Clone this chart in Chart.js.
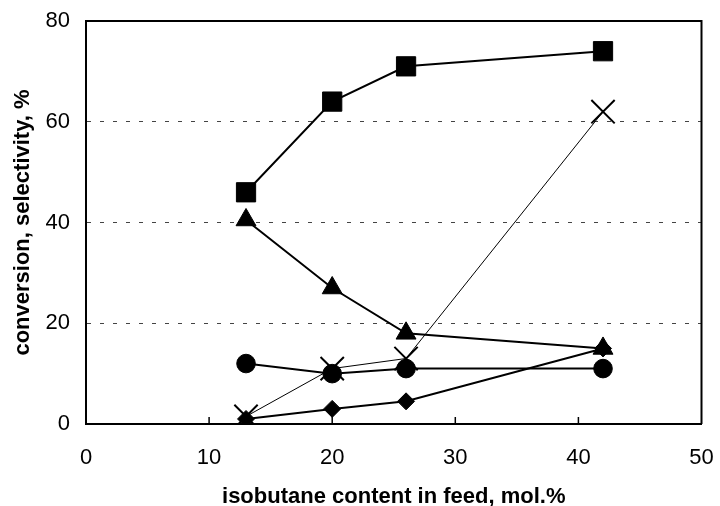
<!DOCTYPE html>
<html>
<head>
<meta charset="utf-8">
<script src="https://cdn.jsdelivr.net/npm/chart.js@4/dist/chart.umd.min.js"></script>
<style>
  html, body { margin: 0; padding: 0; background: #fff; }
  #wrap { width: 720px; height: 506px; }
</style>
</head>
<body>
<div id="wrap"><canvas id="feedChart"></canvas></div>
<script>
// isobutane content in feed, mol.%
var feedContent = [13, 20, 26, 42];

// one array per marker series
var squareValues = [46, 64, 71, 74];
var triangleValues = [40.5, 27, 18, 15];
var crossValues = [1.5, 11, 13, 62];
var circleValues = [12, 10, 11, 11];
var diamondValues = [1, 3, 4.5, 15];

var xTicks = [0, 10, 20, 30, 40, 50];
var yTicks = [0, 20, 40, 60, 80];

function pts(vals) {
  return feedContent.map(function (x, i) { return { x: x, y: vals[i] }; });
}

function series(vals, style, radius, lineW) {
  return {
    data: pts(vals),
    showLine: true,
    borderColor: '#000',
    backgroundColor: '#000',
    borderWidth: lineW,
    pointStyle: style,
    pointRadius: radius,
    pointBorderColor: '#000',
    pointBackgroundColor: '#000',
    pointBorderWidth: style === 'crossRot' ? 2 : 1
  };
}

// frame on top/right and inward x ticks
var framePlugin = {
  id: 'frame',
  afterDraw: function (chart) {
    var a = chart.chartArea, ctx = chart.ctx, xs = chart.scales.x;
    ctx.save();
    ctx.strokeStyle = '#000';
    ctx.lineWidth = 2;
    ctx.beginPath();
    ctx.moveTo(a.left, a.top);
    ctx.lineTo(a.right, a.top);
    ctx.lineTo(a.right, a.bottom);
    ctx.stroke();
    ctx.lineWidth = 1.5;
    xTicks.slice(1, -1).forEach(function (t) {
      var px = xs.getPixelForValue(t);
      ctx.beginPath();
      ctx.moveTo(px, a.bottom);
      ctx.lineTo(px, a.bottom - 7);
      ctx.stroke();
    });
    ctx.restore();
  }
};

var ctx = document.getElementById('feedChart');
var myChart = new Chart(ctx, {
  type: 'scatter',
  data: {
    datasets: [
      series(crossValues, 'crossRot', 16.5, 1),
      series(diamondValues, 'rectRot', 8.5, 2),
      series(circleValues, 'circle', 9.3, 2),
      series(triangleValues, 'triangle', 11.5, 2),
      series(squareValues, 'rect', 13.6, 2)
    ]
  },
  options: {
    responsive: true,
    maintainAspectRatio: false,
    animation: false,
    layout: { padding: { top: 21, right: 14, left: 0, bottom: 0 } },
    plugins: { legend: { display: false }, tooltip: { enabled: false } },
    scales: {
      x: {
        type: 'linear',
        min: 0,
        max: 50,
        afterBuildTicks: function (s) { s.ticks = xTicks.map(function (v) { return { value: v }; }); },
        afterFit: function (s) { s.height = 82; s.paddingLeft = 0; s.paddingRight = 0; },
        grid: { display: false, drawTicks: false },
        border: { display: true, color: '#000', width: 2 },
        ticks: {
          padding: 21,
          color: '#000',
          font: { family: 'Liberation Sans, Arial, sans-serif', size: 22 }
        },
        title: {
          display: true,
          text: 'isobutane content in feed, mol.%',
          color: '#000',
          padding: 0,
          font: { family: 'Liberation Sans, Arial, sans-serif', size: 22, weight: 'bold', lineHeight: 0.8 }
        }
      },
      y: {
        min: 0,
        max: 80,
        afterBuildTicks: function (s) { s.ticks = yTicks.map(function (v) { return { value: v }; }); },
        afterFit: function (s) { s.width = 86; s.paddingTop = 0; s.paddingBottom = 0; },
        grid: {
          drawTicks: false,
          lineWidth: 1,
          color: function (c) {
            var v = c.tick ? c.tick.value : null;
            return (v === 0 || v === 80) ? 'rgba(0,0,0,0)' : '#444';
          }
        },
        border: { display: true, color: '#000', width: 2, dash: [4, 9] },
        ticks: {
          padding: 16,
          color: '#000',
          font: { family: 'Liberation Sans, Arial, sans-serif', size: 22 }
        },
        title: {
          display: true,
          text: 'conversion, selectivity, %',
          color: '#000',
          padding: 12,
          font: { family: 'Liberation Sans, Arial, sans-serif', size: 22, weight: 'bold', lineHeight: 1 }
        }
      }
    }
  },
  plugins: [framePlugin]
});
</script>
</body>
</html>
